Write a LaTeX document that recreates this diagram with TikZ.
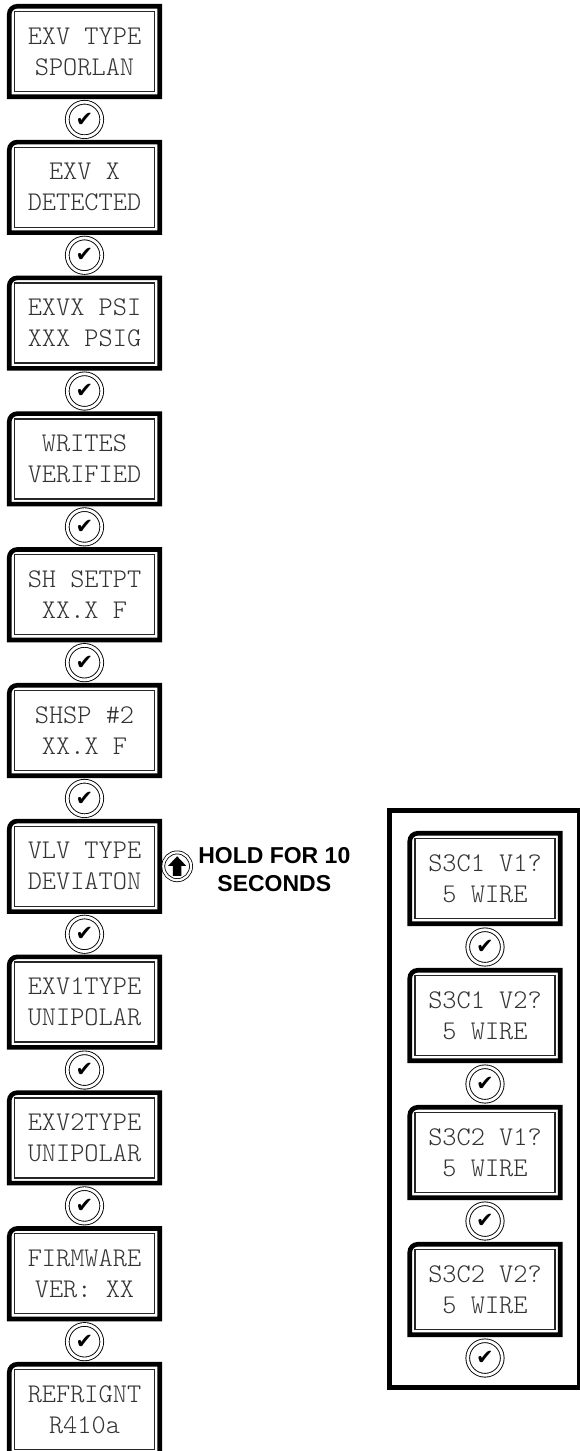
\documentclass[tikz,border=0pt]{standalone}
\usepackage{fontspec}
\setmainfont{Liberation Sans}
\newfontfamily\lcdfont{lmmonolt10-regular}[Extension=.otf]
\newfontfamily\symfont{DejaVu Sans}
\usetikzlibrary{positioning}
\tikzset{
  %% LCD display text
  lcd/.style={
    rectangle, minimum width=150.5pt, minimum height=90.5pt,
    inner sep=0pt, outer sep=0pt, align=center, text=black!80,
    font=\lcdfont\fontsize{27}{31}\selectfont
  },
  %% LCD frame and inner line
  lcdframe/.style={draw=black, line width=4.6pt, line join=miter},
  lcdline/.style={draw=black!85, line width=1.4pt},
  %% Check key
  chk/.style={
    circle, draw=black, line width=0.9pt, double=white,
    double distance=2.8pt, minimum size=34.5pt,
    inner sep=0pt, outer sep=0pt,
    font=\symfont\fontsize{21}{21}\selectfont
  },
  %% Up key
  upk/.style={
    circle, draw=black, line width=0.8pt, double=white,
    double distance=2.2pt, minimum size=27.8pt,
    inner sep=0pt, outer sep=0pt,
    path picture={
      \fill (path picture bounding box.center) ++(0,10pt)
        -- ++(-9pt,-9.5pt) -- ++(4.8pt,0) -- ++(0,-10pt)
        -- ++(8.4pt,0) -- ++(0,10pt) -- ++(4.8pt,0) -- cycle;
    }
  },
  hold/.style={font=\bfseries\fontsize{23}{28}\selectfont,
               align=center, inner sep=0pt},
  panel/.style={draw=black, line width=5pt},
}
\begin{document}
\begin{tikzpicture}[x=1pt, y=1pt]
  \useasboundingbox (0,0) rectangle (580,-1451);

  %% left column
  \node[lcd] (d1) at (84.5,-51.5) {EXV TYPE\\SPORLAN};
  \node[lcd, below=45.3pt of d1] (d2) {EXV X\\DETECTED};
  \node[lcd, below=45.3pt of d2] (d3) {EXVX PSI\\XXX PSIG};
  \node[lcd, below=45.3pt of d3] (d4) {WRITES\\VERIFIED};
  \node[lcd, below=45.3pt of d4] (d5) {SH SETPT\\XX.X F};
  \node[lcd, below=45.3pt of d5] (d6) {SHSP \#2\\XX.X F};
  \node[lcd, below=45.3pt of d6] (d7) {VLV TYPE\\DEVIATON};
  \node[lcd, below=45.3pt of d7] (d8) {EXV1TYPE\\UNIPOLAR};
  \node[lcd, below=45.3pt of d8] (d9) {EXV2TYPE\\UNIPOLAR};
  \node[lcd, below=45.3pt of d9] (d10) {FIRMWARE\\VER: XX};
  \node[lcd, below=45.3pt of d10] (d11) {REFRIGNT\\R410a};

  \node[chk, below=5.45pt of d1] (c1) {✔};
  \node[chk, below=5.45pt of d2] (c2) {✔};
  \node[chk, below=5.45pt of d3] (c3) {✔};
  \node[chk, below=5.45pt of d4] (c4) {✔};
  \node[chk, below=5.45pt of d5] (c5) {✔};
  \node[chk, below=5.45pt of d6] (c6) {✔};
  \node[chk, below=5.45pt of d7] (c7) {✔};
  \node[chk, below=5.45pt of d8] (c8) {✔};
  \node[chk, below=5.45pt of d9] (c9) {✔};
  \node[chk, below=5.45pt of d10] (c10) {✔};

  %% hold key
  \node[upk, right=3.5pt of d7] (up) {};
  \node[hold, right=7pt of up, yshift=-3pt] (holdtxt)
       {HOLD FOR 10\\SECONDS};

  %% right column
  \node[lcd] (w1) at (485,-878.5) {S3C1 V1?\\5 WIRE};
  \node[lcd, below=46.5pt of w1] (w2) {S3C1 V2?\\5 WIRE};
  \node[lcd, below=46.5pt of w2] (w3) {S3C2 V1?\\5 WIRE};
  \node[lcd, below=46.5pt of w3] (w4) {S3C2 V2?\\5 WIRE};

  \node[chk, below=6pt of w1] (k1) {✔};
  \node[chk, below=6pt of w2] (k2) {✔};
  \node[chk, below=6pt of w3] (k3) {✔};
  \node[chk, below=6pt of w4] (k4) {✔};

  \draw[panel] (389.5,-810.5) rectangle (579,-1387.5);

  %% display frames
  \foreach \n in {d1,d2,d3,d4,d5,d6,d7,d8,d9,d10,d11,w1,w2,w3,w4} {
    \draw[lcdframe] (\n.south west) -- ([yshift=-8pt]\n.north west)
      arc[start angle=180, end angle=90, radius=8pt] -- (\n.north east)
      -- (\n.south east) -- cycle;
    \draw[lcdline] ([shift={(5.3pt,5.3pt)}]\n.south west)
      rectangle ([shift={(-5.3pt,-5.3pt)}]\n.north east);
  }
\end{tikzpicture}
\end{document}
